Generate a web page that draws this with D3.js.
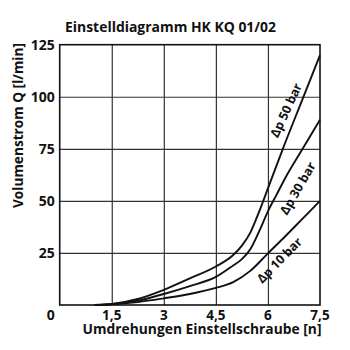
<!DOCTYPE html>
<html>
<head>
<meta charset="utf-8">
<script src="https://cdn.jsdelivr.net/npm/d3@7"></script>
<style>
  html, body { margin: 0; padding: 0; background: #fff; }
  svg { display: block; }
  text { font-family: "Open Sans", Lato, sans-serif; font-weight: 700; fill: #111; }
</style>
</head>
<body>
<svg id="chart" width="350" height="350"></svg>
<script>
// ---- data ----
const title = "Einstelldiagramm HK KQ 01/02";
const xTitle = "Umdrehungen Einstellschraube [n]";
const yTitle = "Volumenstrom Q [l/min]";
const xTicks = [1.5, 3, 4.5, 6, 7.5];
const xTickLabels = ["1,5", "3", "4,5", "6", "7,5"];
const yTicks = [25, 50, 75, 100, 125];
const seriesNames = ["Δp 50 bar", "Δp 30 bar", "Δp 10 bar"];
const n50 = [1.0, 1.5, 2.25, 3.0, 3.75, 4.5, 5.0, 5.25, 5.5, 5.75, 6.0, 6.43, 7.0, 7.5];
const q50 = [0, 0.5, 2.9, 7.3, 12.8, 18.5, 24, 28.5, 35, 45, 56, 75, 99, 120];
const n30 = [1.0, 1.5, 2.25, 3.0, 3.75, 4.5, 5.0, 5.25, 5.5, 5.75, 6.0, 6.25, 6.5, 7.0, 7.5];
const q30 = [0, 0.4, 2.1, 5.3, 9.1, 13.5, 19, 22, 27, 35.5, 45, 53, 61, 75, 89];
const n10 = [1.0, 1.5, 2.25, 3.0, 3.75, 4.5, 5.0, 5.5, 6.0, 6.5, 7.0, 7.5];
const q10 = [0, 0.3, 1.4, 3.2, 5.3, 8.2, 11, 16.5, 24.8, 33, 41.5, 50];
// label anchor (in data units) for each series
const labelN = [6.52, 6.86, 6.33];
const labelQ = [93.5, 56, 21.5];

// ---- layout ----
const svg = d3.select("#chart");
const x = d3.scaleLinear().domain([0, 7.5]).range([59.7, 320]);
const y = d3.scaleLinear().domain([0, 125]).range([305, 44.7]);

// grid
svg.append("g")
  .attr("transform", `translate(0,${y(0)})`)
  .call(d3.axisBottom(x).tickValues(xTicks.slice(0, -1)).tickSize(-(y(0) - y(125))).tickFormat(""))
  .call(g => g.select(".domain").remove())
  .call(g => g.selectAll("line").attr("stroke", "#333").attr("stroke-width", 1.2));
svg.append("g")
  .attr("transform", `translate(${x(0)},0)`)
  .call(d3.axisLeft(y).tickValues(yTicks.slice(0, -1)).tickSize(-(x(7.5) - x(0))).tickFormat(""))
  .call(g => g.select(".domain").remove())
  .call(g => g.selectAll("line").attr("stroke", "#333").attr("stroke-width", 1.2));

// frame
svg.append("rect")
  .attr("x", x(0)).attr("y", y(125))
  .attr("width", x(7.5) - x(0)).attr("height", y(0) - y(125))
  .attr("fill", "none").attr("stroke", "#111").attr("stroke-width", 1.6);

// tick labels
svg.append("g").selectAll("text").data(xTicks).join("text")
  .attr("x", d => x(d)).attr("y", 320)
  .attr("text-anchor", "middle").attr("font-size", 13.5)
  .text((d, i) => xTickLabels[i]);
svg.append("g").selectAll("text").data(yTicks).join("text")
  .attr("x", x(0) - 5).attr("y", d => y(d) + 5)
  .attr("text-anchor", "end").attr("font-size", 14)
  .text(d => d);
svg.append("text").attr("x", x(0) - 5).attr("y", 319.5)
  .attr("text-anchor", "end").attr("font-size", 14).text("0");

// curves
const line = d3.line().x(d => x(d[0])).y(d => y(d[1])).curve(d3.curveMonotoneX);
const series = [
  d3.zip(n50, q50),
  d3.zip(n30, q30),
  d3.zip(n10, q10)
];
svg.append("g").selectAll("path").data(series).join("path")
  .attr("d", line).attr("fill", "none").attr("stroke", "#111").attr("stroke-width", 1.9);

// series labels
const angles = [-65, -60, -45.5];
svg.append("g").selectAll("text").data(seriesNames).join("text")
  .attr("transform", (d, i) => `translate(${x(labelN[i])},${y(labelQ[i])}) rotate(${angles[i]})`)
  .attr("text-anchor", "middle").attr("dy", "0.35em").attr("font-size", 12.5)
  .text(d => d);

// titles
svg.append("text").attr("x", 170.5).attr("y", 32.3)
  .attr("text-anchor", "middle").attr("font-size", 15)
  .attr("textLength", 211).attr("lengthAdjust", "spacingAndGlyphs")
  .text(title);
svg.append("text").attr("x", 202).attr("y", 334)
  .attr("text-anchor", "middle").attr("font-size", 15)
  .attr("textLength", 239).attr("lengthAdjust", "spacingAndGlyphs")
  .text(xTitle);
svg.append("text").attr("transform", "translate(23,125.5) rotate(-90)")
  .attr("text-anchor", "middle").attr("font-size", 15)
  .attr("textLength", 165).attr("lengthAdjust", "spacingAndGlyphs")
  .text(yTitle);
</script>
</body>
</html>
